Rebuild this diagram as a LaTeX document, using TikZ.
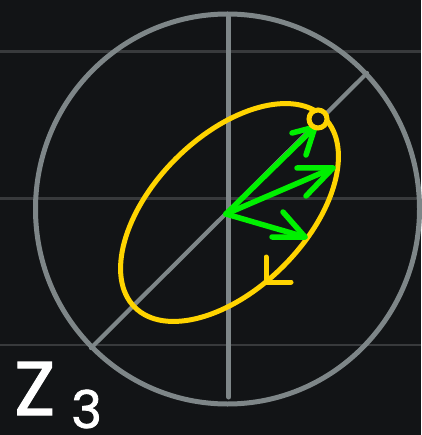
\documentclass[tikz,border=0pt]{standalone}
\usepackage{fontspec}
\setmainfont{Poppins}
\newfontfamily\handfont[FakeBold=1.5]{Poppins}
\usetikzlibrary{arrows.meta}

\definecolor{board}{RGB}{18,20,22}
\definecolor{rim}{RGB}{126,134,136}
\definecolor{gridgray}{RGB}{56,58,60}
\definecolor{orbit}{RGB}{255,212,0}
\definecolor{vecgreen}{RGB}{0,240,0}

\tikzset{
  gridline/.style={gridgray, line width=2.8pt},
  axis/.style={rim, line width=5pt, line cap=round},
  orbitline/.style={orbit, line width=5pt},
  vecline/.style={vecgreen, line width=5.5pt, line cap=round, line join=round},
  handtext/.style={white, anchor=base west, inner sep=0pt}
}

\begin{document}
\begin{tikzpicture}[x=1pt, y=-1pt]
% background
\useasboundingbox (0,0) rectangle (421,435);
\fill[board] (0,0) rectangle (421,435);

% faint horizontal grid
\foreach \y in {51.5, 198.5, 345}
  \draw[gridline] (0,\y) -- (421,\y);

% circle with the two axes
\coordinate (ctr) at (227.5,209);
\draw[axis] (ctr) ellipse [x radius=192, y radius=195];
\coordinate (top) at (228.7,17);
\coordinate (bot) at (228.7,397);
\draw[axis] (top) -- (bot);
\coordinate (sw) at (91,348);
\coordinate (ne) at (367,73);
\draw[axis, line width=4.2pt] (sw) -- (ne);

% orbit ellipse and its direction mark
\coordinate (mid) at (229.5,212.5);
\draw[orbitline, rotate around={45:(mid)}] (mid) ellipse [x radius=134, y radius=76];
\coordinate (dir) at (266,282);
\draw[orbitline, line cap=round, line join=round] (266,257) -- (dir) -- (291,282);

% green vectors
\coordinate (o) at (226,214);
\coordinate (v1) at (315,127);
\coordinate (v2) at (333,168);
\coordinate (v3) at (305,237);
\draw[vecline] (o) -- (v1);
\draw[vecline] (o) -- (v2);
\draw[vecline] (o) -- (v3);
\draw[vecline] (v1) ++(-23,6) -- (v1) -- ++(-9,28);
\draw[vecline] (v2) ++(-36,0) -- (v2) -- ++(-27,28);
\draw[vecline] (v3) ++(-22,-25) -- (v3) -- ++(-33,0);

% marked point
\draw[orbitline, fill=board] (318,119) circle (9);

% label
\node[handtext, font=\handfont\fontsize{76}{76}\selectfont] (zed) at (14,415) {Z};
\node[handtext, font=\handfont\fontsize{52}{52}\selectfont] (three) at (71,428) {3};
\end{tikzpicture}
\end{document}
